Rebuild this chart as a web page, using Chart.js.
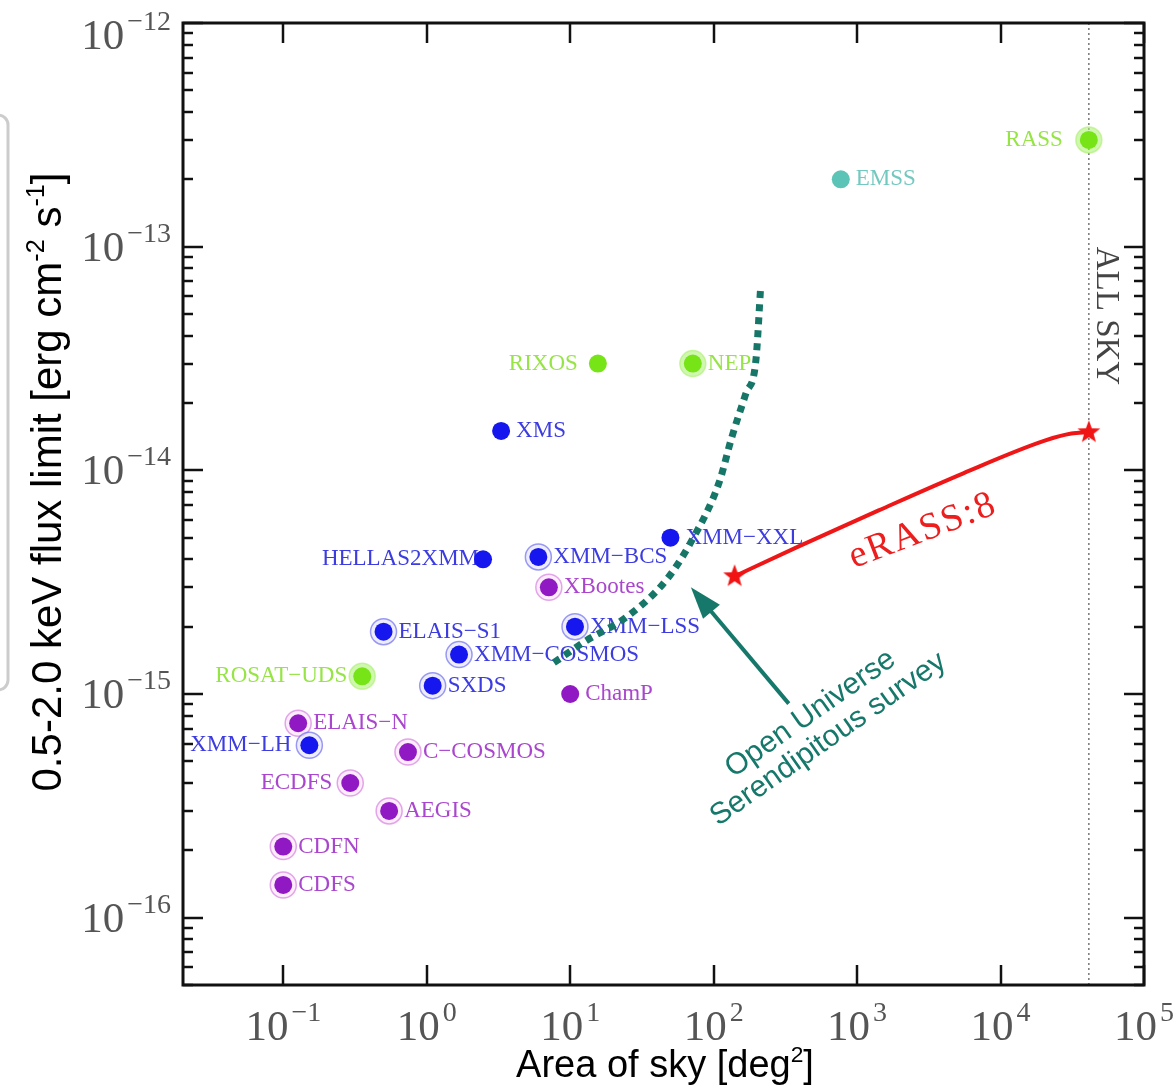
<!DOCTYPE html>
<html>
<head>
<meta charset="utf-8">
<title>X-ray surveys: flux limit vs sky area</title>
<script src="https://cdn.jsdelivr.net/npm/chart.js@4.4.1/dist/chart.umd.min.js"></script>
<style>
  html, body { margin: 0; padding: 0; background: #fff; }
  #wrap { position: relative; width: 1173px; height: 1086px; }
</style>
</head>
<body>
<div id="wrap"><canvas id="surveyChart"></canvas></div>
<script>
// survey points: area in deg^2, 0.5-2.0 keV flux limit in erg cm^-2 s^-1
const blueNames = ['XMS', 'HELLAS2XMM', 'XMM-BCS', 'XMM-XXL', 'ELAIS-S1', 'XMM-LSS', 'XMM-COSMOS', 'SXDS', 'XMM-LH'];
const blueArea = [3.3, 2.47, 6.0, 50, 0.5, 10.8, 1.68, 1.1, 0.152];
const blueFlux = [1.5e-14, 4.0e-15, 4.1e-15, 5.0e-15, 1.9e-15, 2.0e-15, 1.5e-15, 1.09e-15, 5.9e-16];

const purpleNames = ['XBootes', 'ChamP', 'ELAIS-N', 'C-COSMOS', 'ECDFS', 'AEGIS', 'CDFN', 'CDFS'];
const purpleArea = [7.1, 10, 0.127, 0.74, 0.293, 0.547, 0.1, 0.1];
const purpleFlux = [3.0e-15, 1.0e-15, 7.4e-16, 5.5e-16, 4.0e-16, 3.0e-16, 2.08e-16, 1.4e-16];

const greenNames = ['RASS', 'RIXOS', 'NEP', 'ROSAT-UDS'];
const greenArea = [41253, 15.6, 71.6, 0.355];
const greenFlux = [3.0e-13, 3.0e-14, 3.0e-14, 1.2e-15];

const emssNames = ['EMSS'];
const emssArea = [770];
const emssFlux = [2.0e-13];

// eRASS:8 track
const erassArea = [140, 392, 1413, 5500, 20560, 31200, 41253];
const erassFlux = [3.36e-15, 4.57e-15, 6.62e-15, 9.7e-15, 1.36e-14, 1.46e-14, 1.48e-14];

// Open Universe serendipitous survey
const ouArea = [7.7, 12.9, 24.5, 46.5, 70.5, 108.7, 134, 167.5, 197, 213];
const ouFlux = [1.38e-15, 1.73e-15, 2.2e-15, 3.22e-15, 4.86e-15, 8.75e-15, 1.41e-14, 2.2e-14, 3.1e-14, 6.7e-14];

const allSkyArea = 41253;

const xTickExp = [-1, 0, 1, 2, 3, 4, 5];
const yTickExp = [-16, -15, -14, -13, -12];
const yMinorDecades = [-17, -16, -15, -14, -13];

// label placement / ring markers
const leftLabels = ['RASS', 'RIXOS', 'HELLAS2XMM', 'ROSAT-UDS', 'XMM-LH', 'ECDFS'];
const labelGap = { 'RASS': 26, 'RIXOS': 20, 'HELLAS2XMM': 4, 'ROSAT-UDS': 15 };
const ringed = ['XMM-BCS', 'XMM-LSS', 'ELAIS-S1', 'XMM-COSMOS', 'SXDS', 'XMM-LH',
    'XBootes', 'ELAIS-N', 'C-COSMOS', 'ECDFS', 'AEGIS', 'CDFN', 'CDFS',
    'RASS', 'NEP', 'ROSAT-UDS'];

const groups = [
    { names: blueNames, area: blueArea, flux: blueFlux, dot: 'rgb(22,22,238)', text: 'rgb(60,60,225)',
      ringFill: 'rgba(225,225,255,0.6)', ringLine: 'rgba(90,90,235,0.6)' },
    { names: purpleNames, area: purpleArea, flux: purpleFlux, dot: 'rgb(145,25,195)', text: 'rgb(170,70,205)',
      ringFill: 'rgba(252,228,250,0.7)', ringLine: 'rgba(215,130,225,0.7)' },
    { names: greenNames, area: greenArea, flux: greenFlux, dot: 'rgb(118,228,22)', text: 'rgb(150,228,70)',
      ringFill: 'rgba(170,240,110,0.55)', ringLine: 'rgba(170,240,110,0.6)' },
    { names: emssNames, area: emssArea, flux: emssFlux, dot: 'rgb(92,196,182)', text: 'rgb(115,200,192)',
      ringFill: 'rgba(0,0,0,0)', ringLine: 'rgba(0,0,0,0)' }
];

function toPoints(xs, ys) {
    return xs.map((x, i) => ({ x: x, y: ys[i] }));
}

function makeStar() {
    const c = document.createElement('canvas');
    c.width = 26;
    c.height = 26;
    const g = c.getContext('2d');
    g.fillStyle = 'rgb(240,20,20)';
    g.beginPath();
    for (let i = 0; i < 10; i++) {
        const r = i % 2 === 0 ? 12 : 5;
        const a = -Math.PI / 2 + i * Math.PI / 5;
        g.lineTo(13 + r * Math.cos(a), 13 + r * Math.sin(a));
    }
    g.closePath();
    g.fill();
    return c;
}

const datasets = [];

datasets.push({
    label: 'eRASS:8 ends',
    data: [{ x: erassArea[0], y: erassFlux[0] }, { x: erassArea[erassArea.length - 1], y: erassFlux[erassFlux.length - 1] }],
    pointStyle: makeStar(),
    pointRadius: 10,
    showLine: false,
    order: 0
});
datasets.push({
    label: 'eRASS:8',
    data: toPoints(erassArea, erassFlux),
    showLine: true,
    borderColor: 'rgb(238,22,22)',
    borderWidth: 4,
    pointRadius: 0,
    cubicInterpolationMode: 'monotone',
    order: 1
});
datasets.push({
    label: 'Open Universe',
    data: toPoints(ouArea, ouFlux),
    showLine: true,
    borderColor: 'rgb(22,118,104)',
    borderWidth: 7,
    borderDash: [7, 6],
    pointRadius: 0,
    cubicInterpolationMode: 'monotone',
    order: 2
});
groups.forEach(g => {
    datasets.push({
        label: g.names.join(','),
        data: toPoints(g.area, g.flux),
        backgroundColor: g.dot,
        borderColor: g.dot,
        borderWidth: 0,
        pointRadius: 9,
        order: 3
    });
    const ringPts = toPoints(g.area, g.flux).filter((p, i) => ringed.includes(g.names[i]));
    datasets.push({
        label: 'rings',
        data: ringPts,
        backgroundColor: g.ringFill,
        borderColor: g.ringLine,
        borderWidth: 1.5,
        pointRadius: 13,
        order: 4
    });
});
datasets.push({
    label: 'all sky',
    data: [{ x: allSkyArea, y: 5e-17 }, { x: allSkyArea, y: 1e-12 }],
    showLine: true,
    borderColor: '#777',
    borderWidth: 1.5,
    borderDash: [2, 3],
    pointRadius: 0,
    order: 5
});

function pow10Label(ctx, exp, x, baseline, align) {
    const big = "43px 'Liberation Serif'";
    const small = "28px 'Liberation Serif'";
    const expText = exp < 0 ? '\u2212' + Math.abs(exp) : String(exp);
    ctx.font = big;
    const w1 = ctx.measureText('10').width;
    ctx.font = small;
    const w2 = ctx.measureText(expText).width;
    const total = w1 + 3 + w2;
    let start = x;
    if (align === 'center') start = x - total / 2;
    if (align === 'right') start = x - total;
    ctx.textAlign = 'left';
    ctx.textBaseline = 'alphabetic';
    ctx.font = big;
    ctx.fillText('10', start, baseline);
    ctx.font = small;
    ctx.fillText(expText, start + w1 + 3, baseline - 19);
}

function richText(ctx, parts, cx, baseline, size, rotation) {
    ctx.save();
    ctx.translate(cx, baseline);
    ctx.rotate(rotation);
    ctx.textAlign = 'left';
    ctx.textBaseline = 'alphabetic';
    let total = 0;
    parts.forEach(p => {
        ctx.font = (p.sup ? size * 0.6 : size) + "px 'Liberation Sans'";
        total += ctx.measureText(p.t).width;
    });
    let xx = -total / 2;
    parts.forEach(p => {
        ctx.font = (p.sup ? size * 0.6 : size) + "px 'Liberation Sans'";
        ctx.fillText(p.t, xx, p.sup ? -size * 0.4 : 0);
        xx += ctx.measureText(p.t).width;
    });
    ctx.restore();
}

const labelPlugin = {
    id: 'surveyLabels',
    beforeDatasetsDraw(chart) {
        const ctx = chart.ctx;
        const xs = chart.scales.x;
        const ys = chart.scales.y;
        ctx.save();
        ctx.font = "23px 'Liberation Serif'";
        ctx.textBaseline = 'middle';
        groups.forEach(g => {
            ctx.fillStyle = g.text;
            g.names.forEach((name, i) => {
                const px = xs.getPixelForValue(g.area[i]);
                const py = ys.getPixelForValue(g.flux[i]);
                const shown = name.replace('-', '\u2212');
                if (leftLabels.includes(name)) {
                    ctx.textAlign = 'right';
                    ctx.fillText(shown, px - (labelGap[name] || 18), py);
                } else {
                    ctx.textAlign = 'left';
                    ctx.fillText(shown, px + 15, py);
                }
            });
        });
        ctx.restore();
    }
};

const framePlugin = {
    id: 'frameAndText',
    afterDraw(chart) {
        const ctx = chart.ctx;
        const a = chart.chartArea;
        const xs = chart.scales.x;
        const ys = chart.scales.y;
        ctx.save();

        // faint box edge on the far left
        ctx.strokeStyle = 'rgba(0,0,0,0.2)';
        ctx.lineWidth = 3;
        ctx.beginPath();
        ctx.roundRect(-40, 115, 48, 575, 10);
        ctx.stroke();

        // frame
        ctx.strokeStyle = '#111';
        ctx.lineWidth = 3;
        ctx.strokeRect(a.left, a.top, a.right - a.left, a.bottom - a.top);

        ctx.lineWidth = 2.5;
        const seg = (x1, y1, x2, y2) => {
            ctx.beginPath();
            ctx.moveTo(x1, y1);
            ctx.lineTo(x2, y2);
            ctx.stroke();
        };
        xTickExp.forEach(e => {
            const px = Math.round(xs.getPixelForValue(Math.pow(10, e)));
            seg(px, a.bottom, px, a.bottom - 20);
            seg(px, a.top, px, a.top + 20);
        });
        yTickExp.forEach(e => {
            const py = Math.round(ys.getPixelForValue(Math.pow(10, e)));
            seg(a.left, py, a.left + 20, py);
            seg(a.right, py, a.right - 20, py);
        });
        yMinorDecades.forEach(e => {
            for (let k = 2; k <= 9; k++) {
                const v = k * Math.pow(10, e);
                if (v <= ys.min || v >= ys.max) continue;
                const py = Math.round(ys.getPixelForValue(v));
                seg(a.left, py, a.left + 10, py);
                seg(a.right, py, a.right - 10, py);
            }
        });

        // tick labels
        ctx.fillStyle = '#555';
        xTickExp.forEach(e => {
            pow10Label(ctx, e, xs.getPixelForValue(Math.pow(10, e)), a.bottom + 55, 'center');
        });
        yTickExp.forEach(e => {
            const py = ys.getPixelForValue(Math.pow(10, e));
            pow10Label(ctx, e, a.left - 12, Math.max(py + 14, 49), 'right');
        });

        // axis titles
        ctx.fillStyle = '#000';
        richText(ctx, [{ t: 'Area of sky [deg' }, { t: '2', sup: true }, { t: ']' }], 665, 1077, 38, 0);
        richText(ctx, [{ t: '0.5-2.0 keV flux limit [erg cm' }, { t: '-2', sup: true }, { t: ' s' },
            { t: '-1', sup: true }, { t: ']' }], 61, 482, 42, -Math.PI / 2);

        // ALL SKY
        ctx.fillStyle = '#444';
        ctx.font = "33px 'Liberation Serif'";
        ctx.textAlign = 'center';
        ctx.textBaseline = 'alphabetic';
        ctx.save();
        ctx.translate(xs.getPixelForValue(allSkyArea) + 8, ys.getPixelForValue(4.9e-14));
        ctx.rotate(Math.PI / 2);
        ctx.fillText('ALL SKY', 0, 0);
        ctx.restore();

        // eRASS:8 label
        ctx.fillStyle = 'rgb(236,30,30)';
        ctx.font = "38px 'Liberation Serif'";
        ctx.letterSpacing = '2px';
        ctx.save();
        ctx.translate(xs.getPixelForValue(3053), ys.getPixelForValue(4.86e-15));
        ctx.rotate(-21 * Math.PI / 180);
        ctx.fillText('eRASS:8', 0, 0);
        ctx.restore();
        ctx.letterSpacing = '0px';

        // Open Universe arrow and text
        const teal = 'rgb(22,120,106)';
        const tx = xs.getPixelForValue(334), ty = ys.getPixelForValue(9.06e-16);
        const hx = xs.getPixelForValue(69.4), hy = ys.getPixelForValue(3.0e-15);
        const ang = Math.atan2(hy - ty, hx - tx);
        const headLen = 32, headHalf = 11;
        const bx = hx - headLen * Math.cos(ang), by = hy - headLen * Math.sin(ang);
        ctx.strokeStyle = teal;
        ctx.fillStyle = teal;
        ctx.lineWidth = 4;
        seg(tx, ty, bx + 4 * Math.cos(ang), by + 4 * Math.sin(ang));
        ctx.beginPath();
        ctx.moveTo(hx, hy);
        ctx.lineTo(bx + headHalf * Math.sin(ang), by - headHalf * Math.cos(ang));
        ctx.lineTo(bx - headHalf * Math.sin(ang), by + headHalf * Math.cos(ang));
        ctx.closePath();
        ctx.fill();

        ctx.font = "30px 'Liberation Sans'";
        ctx.textAlign = 'center';
        ctx.save();
        ctx.translate(xs.getPixelForValue(510), ys.getPixelForValue(7.6e-16));
        ctx.rotate(-35 * Math.PI / 180);
        ctx.fillText('Open Universe', 0, 0);
        ctx.fillText('Serendipitous survey', 0, 31);
        ctx.restore();

        ctx.restore();
    }
};

document.addEventListener('DOMContentLoaded', function() {
    const ctx = document.getElementById('surveyChart').getContext('2d');
    new Chart(ctx, {
        type: 'scatter',
        data: { datasets: datasets },
        options: {
            responsive: true,
            maintainAspectRatio: false,
            animation: false,
            devicePixelRatio: 1,
            layout: { padding: { left: 183, right: 29, top: 23, bottom: 101 } },
            plugins: {
                legend: { display: false },
                tooltip: { enabled: false }
            },
            scales: {
                x: { type: 'logarithmic', min: 0.02, max: 1e5, display: false },
                y: { type: 'logarithmic', min: 5e-17, max: 1e-12, display: false }
            }
        },
        plugins: [labelPlugin, framePlugin]
    });
});
</script>
</body>
</html>
